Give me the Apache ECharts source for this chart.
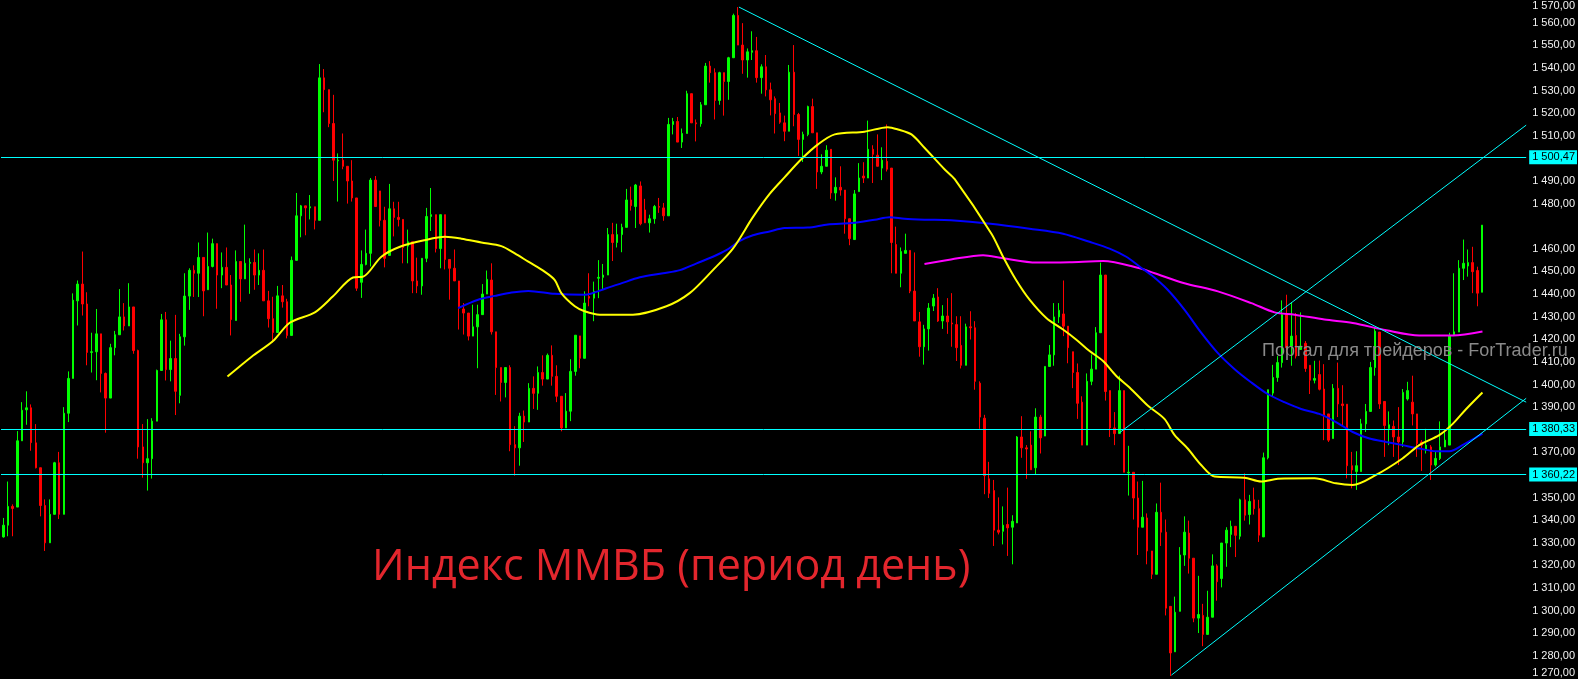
<!DOCTYPE html>
<html><head><meta charset="utf-8">
<script src="https://cdn.jsdelivr.net/npm/echarts@6/dist/echarts.min.js"></script>
<style>html,body{margin:0;padding:0;background:#000;}#c{width:1578px;height:679px;}</style>
</head><body><div id="c"></div><script>
// OHLC per daily bar: [open, close, low, high]
const candles = [
[1332.6,1337.8,1332.3,1341.0],[1337.8,1346.1,1332.9,1357.1],[1346.1,1345.2,1332.9,1347.0],[1345.8,1375.1,1345.8,1379.4],
[1375.1,1388.6,1375.1,1392.2],[1388.8,1389.7,1382.2,1397.0],[1389.7,1374.3,1370.7,1391.2],[1374.2,1363.2,1362.9,1382.5],
[1363.2,1346.5,1341.7,1363.2],[1346.5,1330.0,1326.4,1349.2],[1330.0,1342.6,1330.0,1349.2],[1342.6,1365.4,1342.6,1365.8],
[1365.4,1342.6,1340.5,1370.2],[1342.6,1387.3,1342.6,1390.0],[1387.3,1402.7,1383.4,1405.8],[1402.7,1437.3,1402.7,1440.3],
[1437.0,1444.4,1426.1,1446.0],[1444.4,1435.6,1430.5,1458.8],[1435.6,1414.2,1408.5,1440.8],[1414.2,1414.5,1405.3,1422.9],
[1414.5,1422.4,1401.9,1433.4],[1422.4,1404.9,1396.5,1422.4],[1404.9,1394.0,1378.7,1405.3],[1394.0,1416.3,1394.0,1418.0],
[1416.3,1422.0,1412.9,1423.7],[1422.0,1429.9,1422.0,1442.2],[1429.9,1425.9,1423.9,1436.0],[1425.9,1434.3,1425.9,1444.8],
[1434.3,1415.0,1413.6,1434.3],[1415.0,1372.4,1367.2,1415.4],[1372.4,1365.4,1358.8,1382.5],[1365.4,1367.2,1353.1,1384.7],
[1367.2,1383.8,1358.4,1385.1],[1383.8,1406.2,1383.8,1406.6],[1406.2,1428.6,1406.2,1431.2],[1428.6,1406.6,1401.8,1432.1],
[1406.6,1411.5,1401.4,1419.4],[1411.5,1397.0,1386.5,1430.8],[1395.2,1421.1,1391.7,1422.4],[1421.1,1439.1,1417.2,1449.2],
[1439.1,1450.5,1433.0,1451.4],[1450.5,1449.2,1438.7,1452.7],[1449.2,1456.2,1438.7,1462.8],[1456.2,1441.4,1430.2,1456.2],
[1441.9,1452.2,1441.9,1467.2],[1452.2,1462.3,1451.8,1464.5],[1462.3,1448.4,1433.5,1462.3],[1448.4,1451.8,1442.6,1458.4],
[1451.8,1444.0,1444.0,1460.6],[1444.0,1428.7,1421.7,1448.4],[1428.3,1454.4,1428.3,1459.3],[1454.4,1446.7,1436.6,1454.4],
[1446.7,1453.6,1446.7,1470.7],[1453.6,1454.0,1440.1,1455.8],[1454.0,1448.4,1441.9,1459.7],[1448.4,1450.5,1444.0,1458.0],
[1450.5,1437.0,1437.0,1459.7],[1437.0,1429.1,1425.2,1441.4],[1429.1,1423.0,1418.6,1438.8],[1423.0,1439.2,1423.0,1443.6],
[1439.2,1436.6,1434.0,1444.0],[1436.6,1421.7,1420.4,1437.9],[1421.7,1454.9,1421.7,1456.6],[1454.9,1474.6,1454.9,1484.7],
[1474.6,1479.0,1465.1,1479.4],[1479.0,1478.1,1466.0,1479.0],[1478.1,1478.6,1473.0,1483.8],[1478.6,1472.6,1468.6,1478.6],
[1472.6,1535.6,1472.6,1541.7],[1535.6,1530.4,1520.4,1539.5],[1530.4,1515.4,1513.8,1530.4],[1515.4,1499.2,1490.0,1528.1],
[1498.9,1499.2,1480.9,1502.2],[1499.2,1496.5,1495.2,1511.0],[1496.5,1490.0,1480.0,1496.5],[1490.0,1482.5,1480.9,1499.2],
[1482.5,1442.6,1441.4,1482.5],[1445.2,1453.1,1438.3,1459.3],[1453.1,1458.0,1452.7,1468.5],[1458.0,1490.4,1452.2,1491.3],
[1490.4,1478.7,1478.7,1492.2],[1485.6,1472.6,1469.9,1485.6],[1472.6,1455.8,1451.8,1478.6],[1457.1,1477.7,1457.1,1488.7],
[1477.7,1473.9,1465.5,1480.8],[1473.9,1473.0,1469.9,1480.8],[1473.0,1460.6,1453.6,1473.0],[1461.2,1463.1,1453.6,1468.5],
[1463.1,1445.8,1440.4,1463.1],[1445.8,1443.6,1440.4,1456.1],[1443.6,1455.8,1439.7,1455.8],[1455.8,1474.3,1454.1,1478.1],
[1474.3,1475.1,1467.9,1486.9],[1475.1,1460.1,1458.4,1475.1],[1460.1,1475.1,1451.4,1475.1],[1475.1,1455.3,1450.9,1475.1],
[1455.3,1451.4,1437.5,1455.3],[1451.4,1445.8,1445.8,1459.7],[1445.8,1433.8,1424.3,1445.8],[1433.4,1431.6,1422.1,1436.0],
[1431.6,1421.4,1419.5,1431.6],[1421.4,1425.5,1421.4,1435.3],[1425.5,1430.9,1407.2,1435.3],[1430.9,1440.0,1430.9,1444.4],
[1440.0,1446.5,1440.0,1450.4],[1446.2,1423.3,1422.1,1453.6],[1423.3,1407.5,1395.4,1423.3],[1407.5,1400.9,1392.5,1407.5],
[1400.9,1407.5,1394.3,1407.5],[1407.5,1373.4,1370.5,1408.5],[1373.4,1372.0,1359.7,1381.6],[1372.0,1386.0,1364.1,1387.5],
[1386.0,1383.4,1374.6,1388.5],[1383.4,1398.3,1383.4,1400.6],[1398.3,1396.1,1389.2,1403.6],[1396.1,1405.3,1388.8,1408.0],
[1405.3,1402.4,1399.5,1412.9],[1402.4,1412.9,1402.4,1413.7],[1412.9,1403.6,1399.5,1417.3],[1403.6,1394.8,1392.2,1408.5],
[1394.8,1380.8,1379.3,1394.8],[1380.8,1388.2,1380.8,1396.2],[1388.2,1405.8,1383.8,1411.2],[1405.8,1421.8,1403.9,1421.8],
[1421.5,1411.6,1407.2,1421.5],[1411.6,1436.0,1411.6,1441.2],[1438.9,1438.2,1434.6,1449.2],[1438.2,1441.2,1428.0,1445.5],
[1447.0,1447.4,1438.2,1455.0],[1447.4,1448.4,1441.9,1453.3],[1448.4,1466.3,1448.4,1469.2],[1466.3,1462.8,1454.6,1471.5],
[1462.8,1466.3,1460.6,1471.1],[1466.3,1469.5,1458.5,1471.1],[1469.5,1481.6,1469.5,1486.5],[1481.6,1479.1,1476.9,1487.5],
[1478.7,1488.2,1469.2,1488.7],[1487.8,1471.1,1470.4,1489.8],[1477.2,1471.5,1471.5,1482.1],[1471.5,1473.3,1467.2,1475.1],
[1473.3,1478.7,1471.1,1479.4],[1478.7,1478.4,1475.9,1482.5],[1478.1,1474.6,1472.4,1480.3],[1474.6,1515.0,1474.6,1517.9],
[1515.0,1516.3,1510.6,1517.9],[1516.3,1507.2,1507.2,1518.3],[1507.2,1511.0,1504.6,1513.2],[1511.0,1528.6,1511.0,1529.9],
[1528.6,1515.7,1515.7,1528.6],[1515.7,1515.3,1507.5,1517.2],[1515.3,1523.7,1514.0,1524.9],[1523.7,1540.8,1523.7,1542.2],
[1540.8,1537.9,1533.5,1543.0],[1537.9,1525.6,1517.2,1539.8],[1525.6,1537.9,1523.7,1538.3],[1537.9,1534.0,1518.9,1537.9],
[1534.0,1544.5,1525.9,1544.9],[1544.5,1563.2,1544.5,1564.0],[1563.2,1550.1,1550.1,1566.9],[1550.1,1543.5,1537.4,1559.8],
[1543.5,1547.1,1535.7,1548.6],[1546.9,1547.6,1543.5,1556.2],[1547.6,1535.7,1533.5,1553.7],[1535.7,1540.5,1528.6,1541.6],
[1540.5,1530.3,1527.4,1545.7],[1530.3,1525.9,1519.0,1533.5],[1526.4,1519.8,1511.0,1527.4],[1520.1,1516.0,1515.3,1524.5],
[1515.7,1512.0,1507.6,1518.9],[1512.0,1538.1,1512.0,1541.3],[1538.1,1519.4,1514.2,1550.1],[1519.4,1508.4,1501.1,1520.1],
[1508.4,1510.6,1498.4,1511.8],[1510.6,1522.9,1509.8,1523.3],[1522.9,1511.3,1511.3,1526.4],[1511.3,1494.0,1486.5,1511.3],
[1494.0,1496.5,1493.0,1501.8],[1496.5,1503.6,1496.5,1505.8],[1504.0,1484.7,1482.1,1504.0],[1484.7,1487.2,1481.3,1491.6],
[1487.2,1486.0,1483.5,1496.5],[1486.0,1473.3,1466.7,1486.0],[1473.3,1464.5,1461.6,1473.3],[1464.1,1484.3,1464.1,1486.0],
[1485.3,1491.3,1485.3,1497.9],[1492.2,1491.3,1489.1,1498.3],[1491.3,1504.0,1491.3,1516.7],[1504.0,1501.8,1489.1,1505.8],
[1501.4,1496.5,1496.5,1510.6],[1495.7,1499.2,1490.4,1504.9],[1498.7,1495.2,1494.2,1515.0],[1495.7,1462.8,1449.2,1495.7],
[1461.9,1449.2,1449.2,1469.8],[1449.2,1458.8,1443.0,1460.6],[1458.0,1459.3,1458.0,1466.7],[1459.3,1441.3,1440.4,1459.3],
[1441.3,1428.1,1428.1,1458.4],[1427.7,1416.7,1412.3,1432.1],[1416.7,1424.6,1408.8,1426.4],[1424.6,1433.8,1415.0,1436.0],
[1434.7,1438.2,1432.5,1440.0],[1438.7,1428.1,1427.7,1442.6],[1428.1,1430.3,1424.6,1435.1],[1430.3,1427.7,1422.4,1438.2],
[1427.2,1426.8,1416.7,1440.4],[1426.5,1416.3,1410.4,1430.2],[1417.3,1408.5,1407.1,1430.2],[1408.5,1425.5,1408.5,1426.9],
[1425.5,1425.1,1419.9,1432.4],[1425.1,1401.4,1397.7,1428.0],[1400.6,1385.6,1380.4,1401.4],[1385.1,1359.7,1351.5,1386.6],
[1358.3,1351.9,1349.8,1365.8],[1353.1,1335.6,1328.6,1357.8],[1335.6,1334.7,1333.7,1350.1],[1335.1,1337.8,1329.3,1346.1],
[1338.1,1336.6,1324.2,1354.4],[1336.9,1339.5,1320.5,1342.2],[1338.8,1376.8,1338.8,1377.2],[1376.8,1372.0,1367.6,1386.0],
[1372.0,1371.5,1358.3,1373.2],[1373.2,1362.3,1362.3,1379.3],[1363.2,1385.6,1360.3,1389.5],[1385.6,1376.4,1369.5,1386.6],
[1377.2,1408.0,1377.2,1408.0],[1408.0,1413.1,1408.0,1417.5],[1413.1,1429.9,1408.3,1436.0],[1429.9,1432.8,1427.2,1436.0],
[1431.2,1425.8,1421.4,1446.0],[1425.8,1416.3,1409.4,1425.8],[1414.5,1405.3,1398.4,1414.5],[1405.3,1391.7,1384.8,1409.3],
[1392.2,1373.2,1373.2,1394.8],[1373.2,1401.4,1373.2,1404.9],[1401.4,1406.8,1399.7,1413.3],[1406.8,1422.9,1406.8,1425.4],
[1422.9,1448.4,1422.9,1453.9],[1448.4,1396.9,1392.9,1448.4],[1397.3,1380.8,1376.8,1397.3],[1380.8,1378.3,1373.2,1387.8],
[1378.3,1397.3,1378.3,1403.9],[1397.3,1361.2,1361.2,1397.3],[1360.9,1361.2,1350.9,1372.9],[1361.2,1349.8,1340.3,1361.2],
[1349.8,1336.9,1324.6,1357.1],[1336.9,1341.3,1336.9,1357.4],[1341.0,1326.4,1320.5,1343.0],[1326.4,1316.1,1314.0,1326.4],
[1316.1,1343.5,1316.1,1347.4],[1343.5,1334.7,1328.6,1356.6],[1334.7,1301.1,1297.9,1340.3],[1301.9,1281.3,1271.1,1301.9],
[1281.8,1299.3,1281.8,1306.2],[1299.7,1324.6,1299.7,1328.1],[1324.6,1334.7,1319.8,1341.7],[1334.3,1323.2,1316.4,1339.8],
[1323.2,1296.7,1294.9,1323.2],[1296.7,1298.3,1290.1,1315.4],[1297.9,1289.5,1284.3,1303.0],[1289.5,1297.1,1289.5,1308.8],
[1297.1,1319.8,1297.1,1324.9],[1319.8,1312.8,1304.4,1320.5],[1314.2,1329.9,1310.3,1329.9],[1329.9,1335.6,1319.4,1336.9],
[1333.7,1337.3,1328.1,1339.8],[1337.3,1333.3,1323.7,1337.3],[1332.9,1349.0,1331.5,1349.5],[1349.0,1342.2,1339.8,1360.7],
[1342.5,1348.3,1338.1,1351.2],[1349.0,1345.1,1342.5,1354.4],[1345.1,1333.4,1330.4,1349.0],[1332.6,1367.6,1332.6,1369.9],
[1367.6,1397.7,1366.9,1397.7],[1396.2,1403.1,1394.8,1408.7],[1403.1,1409.7,1401.2,1412.6],[1409.7,1430.9,1407.5,1437.2],
[1430.9,1416.3,1414.1,1439.7],[1417.0,1421.4,1408.3,1436.3],[1421.7,1412.6,1411.5,1431.6],[1415.5,1417.0,1415.5,1431.9],
[1418.2,1407.1,1405.6,1419.2],[1408.5,1401.9,1395.8,1408.5],[1401.9,1402.7,1400.5,1410.5],[1404.4,1397.9,1397.4,1410.6],
[1398.0,1386.3,1375.4,1409.0],[1387.0,1375.4,1374.6,1387.0],[1376.1,1398.3,1376.1,1400.2],[1398.3,1391.4,1385.6,1409.7],
[1391.4,1390.7,1381.9,1399.7],[1391.3,1364.1,1358.5,1391.3],[1364.1,1362.2,1354.1,1370.2],[1361.5,1364.1,1353.4,1370.5],
[1361.5,1382.6,1361.5,1384.8],[1382.6,1388.1,1379.0,1391.4],[1388.1,1407.5,1388.1,1410.0],[1407.5,1423.6,1403.9,1425.1],
[1423.2,1391.4,1389.2,1423.2],[1392.5,1381.9,1368.0,1392.5],[1380.5,1382.2,1373.2,1388.1],[1381.5,1376.8,1368.0,1384.1],
[1376.8,1374.6,1364.4,1390.0],[1374.6,1396.5,1372.4,1398.0],[1393.6,1397.3,1392.9,1401.2],[1392.2,1387.0,1381.9,1403.9],
[1387.0,1373.9,1368.0,1387.0],[1374.6,1373.2,1361.8,1375.4],[1371.0,1373.2,1369.5,1380.4],[1372.4,1364.4,1357.8,1373.2],
[1364.4,1367.3,1363.7,1370.2],[1367.3,1372.4,1366.6,1383.7],[1372.4,1375.4,1372.4,1379.0],[1373.2,1421.4,1373.2,1422.9],
[1422.1,1423.3,1421.4,1449.2],[1423.2,1451.4,1423.2,1455.0],[1451.4,1453.6,1446.2,1464.1],[1452.4,1453.9,1447.7,1459.7],
[1453.9,1449.9,1440.4,1460.9],[1450.4,1440.4,1434.6,1452.1],[1440.8,1470.48,1440.8,1470.48]
];
const slotCount = 328; // bar slots across the chart (incl. empty future space)
const categories = Array.from({length: slotCount}, (_, i) => String(i));

// Moving averages: [bar position, price]
const maYellow = [[48.2,1403.5],[53.4,1412.3],[58.0,1419.2],[61.6,1427.3],[67.0,1431.9],[70.9,1439.0],[75.2,1447.3],[77.4,1447.7],
[81.3,1456.5],[85.3,1460.9],[90.6,1463.8],[95.0,1465.3],[98.5,1464.5],[102.8,1462.8],[107.1,1461.2],[110.0,1458.0],[112.9,1454.3],
[116.4,1449.9],[118.6,1446.2],[120.0,1440.4],[122.9,1434.6],[125.0,1432.4],[128.3,1430.9],[135.4,1430.9],[142.6,1434.6],[147.6,1440.4],
[152.6,1450.6],[156.9,1460.1],[161.2,1474.0],[164.8,1484.3],[168.0,1491.6],[171.6,1499.6],[175.2,1506.2],[178.8,1510.6],[185.2,1511.8],
[190.2,1513.8],[192.4,1512.8],[195.3,1510.6],[198.1,1504.7],[202.4,1495.2],[204.6,1490.8],[212.5,1466.7],[215.0,1456.5],[217.8,1446.2],
[220.7,1437.5],[224.3,1429.4],[227.9,1424.3],[230.7,1419.9],[233.6,1414.8],[236.5,1410.4],[239.3,1403.9],[242.2,1398.7],[246.1,1390.7],
[249.7,1384.8],[251.9,1377.6],[254.7,1371.7],[257.6,1364.4],[260.5,1359.3],[266.9,1358.8],[270.5,1357.1],[274.1,1358.3],[282.0,1358.5],
[286.6,1356.3],[290.2,1355.6],[295.2,1360.0],[300.9,1367.3],[304.5,1373.2],[308.8,1377.6],[311.7,1382.6],[314.6,1389.2],[318.1,1396.5]];
const maBlue = [[97.8,1433.8],[102.1,1437.5],[105.7,1439.2],[109.3,1440.7],[112.9,1441.4],[118.6,1440.1],[125.0,1439.7],[129.7,1442.6],
[132.6,1444.5],[136.9,1447.4],[141.9,1449.2],[145.5,1450.6],[149.1,1453.6],[152.6,1456.5],[155.5,1459.4],[158.4,1463.5],[161.2,1466.0],
[164.8,1467.7],[168.0,1469.2],[173.0,1469.4],[177.3,1470.8],[182.4,1471.4],[187.4,1472.9],[190.6,1474.0],[193.8,1473.3],[198.1,1472.9],
[203.8,1472.6],[212.3,1471.1],[220.7,1468.9],[227.9,1466.7],[233.6,1463.1],[237.9,1460.1],[241.5,1456.5],[244.4,1452.1],[246.9,1448.4],
[250.4,1441.9],[254.0,1433.1],[257.6,1422.9],[261.1,1414.1],[264.8,1406.8],[268.4,1400.9],[271.9,1395.8],[275.5,1392.2],[279.1,1389.2],
[283.0,1387.0],[286.6,1383.4],[290.2,1379.0],[293.8,1376.1],[297.4,1374.6],[300.9,1373.2],[304.5,1371.7],[308.1,1370.5],[311.0,1370.5],
[313.8,1373.2],[318.1,1378.3]];
const maMagenta = [[198.1,1453.3],[203.8,1455.3],[210.7,1457.2],[215.0,1455.8],[222.2,1453.9],[229.3,1454.1],[236.5,1454.6],[244.4,1451.4],
[247.6,1449.2],[254.0,1444.8],[261.2,1441.2],[268.4,1436.0],[273.4,1431.9],[277.7,1430.9],[284.1,1428.7],[290.2,1427.2],[297.4,1424.0],
[304.5,1421.7],[311.7,1421.7],[318.1,1423.47]];

// Trend lines: [bar position, price]
const trendDown = [[158.2,1566.9],[327.5,1392.2]];
const channelLow = [[251.2,1271.5],[327.5,1393.9]];
const channelHigh = [[240.0,1378.6],[327.5,1514.7]];

// Horizontal levels & price tags
const levelLines = [1500.47, 1380.33, 1360.22];
const lastClose = 1470.48;
const maMagentaLast = 1423.47;
const hiddenTickLabels = [1360, 1380, 1470, 1500];
const yMin = 1270, yMax = 1567.6, yStep = 10;

function fmt(v) {
  const s = Number(v).toFixed(2);
  const [a, b] = s.split('.');
  return a.replace(/\B(?=(\d{3})+(?!\d))/g, ' ') + ',' + b;
}

const CY = '#00ffff';
const tagFont = {fontSize: 11, fontFamily: 'Liberation Sans', padding: [2, 2, 1, 3], distance: 3, position: 'end'};

const levelData = levelLines.map(v => ({
  yAxis: v,
  lineStyle: {color: CY, width: 1, type: 'solid'},
  label: Object.assign({show: true, formatter: fmt(v), backgroundColor: CY, color: '#000'}, tagFont)
}));
levelData.push({yAxis: lastClose, lineStyle: {opacity: 0},
  label: Object.assign({show: true, formatter: fmt(lastClose), backgroundColor: '#00ff00', color: '#ff0000'}, tagFont)});
levelData.push({yAxis: maMagentaLast, lineStyle: {opacity: 0},
  label: Object.assign({show: true, formatter: fmt(maMagentaLast), backgroundColor: '#ff00ff', color: '#ff0000'}, tagFont)});

function lineSeries(data, color, width, smooth) {
  return {type: 'line', xAxisIndex: 1, yAxisIndex: 0, data: data, showSymbol: false, symbol: 'none',
    smooth: smooth, z: 3, silent: true, lineStyle: {color: color, width: width}};
}

const chart = echarts.init(document.getElementById('c'), null, {renderer: 'canvas'});
chart.setOption({
  animation: false,
  backgroundColor: '#000',
  grid: {left: 1, right: 51, top: 0, bottom: 0.5, containLabel: false},
  xAxis: [
    {type: 'category', data: categories, show: false, boundaryGap: true},
    {type: 'value', min: -0.5, max: slotCount - 0.5, show: false}
  ],
  yAxis: {
    type: 'value', position: 'right', min: yMin, max: yMax, interval: yStep,
    axisLine: {show: false}, axisTick: {show: false}, splitLine: {show: false},
    axisLabel: {
      margin: 6, color: '#f2f2f2', fontSize: 11, fontFamily: 'Liberation Sans',
      showMinLabel: true, showMaxLabel: true,
      formatter: function (v) {
        const r = Math.round(v);
        if (Math.abs(v - r) > 0.01 || r % yStep !== 0) return fmt(Math.ceil(v / yStep) * yStep);
        if (hiddenTickLabels.indexOf(r) >= 0) return '';
        if (r === yMin) return '{lo|' + fmt(v) + '}';
        return fmt(v);
      },
      rich: {lo: {color: '#f2f2f2', fontSize: 11, fontFamily: 'Liberation Sans', padding: [0, 0, 11, 0]}}
    }
  },
  series: [
    {
      type: 'candlestick', xAxisIndex: 0, yAxisIndex: 0, data: candles, barWidth: 2, z: 2,
      itemStyle: {color: '#00ff00', color0: '#ff0000', borderColor: '#00ff00', borderColor0: '#ff0000', borderWidth: 1},
      markLine: {silent: true, symbol: ['none', 'none'], animation: false, data: levelData}
    },
    lineSeries(maMagenta, '#ff00ff', 2, 0.3),
    lineSeries(maBlue, '#0000ff', 2, 0.3),
    lineSeries(maYellow, '#ffff00', 2, 0.3),
    lineSeries(trendDown, CY, 1, false),
    lineSeries(channelLow, CY, 1, false),
    lineSeries(channelHigh, CY, 1, false)
  ],
  graphic: [
    {type: 'text', x: 372, y: 568, z: 10, silent: true,
      style: {text: 'Индекс ММВБ (период день)', fill: '#e3262d', font: '43px "Open Sans"', verticalAlign: 'middle', align: 'left'}},
    {type: 'text', x: 1262, y: 351, z: 10, silent: true,
      style: {text: 'Портал для трейдеров - ForTrader.ru', fill: '#8a8a8a', font: '18px "Liberation Sans"', verticalAlign: 'middle', align: 'left'}}
  ]
});
</script></body></html>
